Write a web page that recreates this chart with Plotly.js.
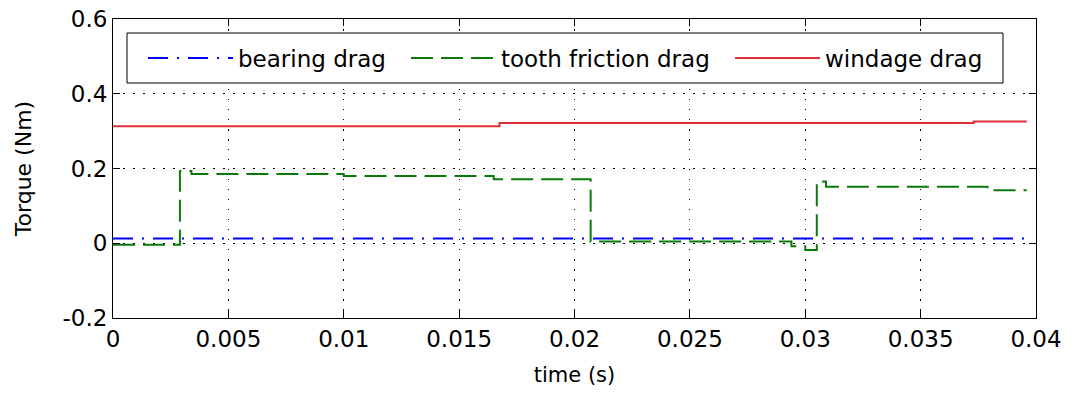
<!DOCTYPE html>
<html>
<head>
<meta charset="utf-8">
<script src="https://cdn.plot.ly/plotly-3.0.1.min.js"></script>
<style>
  html, body { margin: 0; padding: 0; background: #ffffff; }
  #chart { width: 1073px; height: 400px; }
</style>
</head>
<body>
<div id="chart"></div>
<script>
// ---- data ----
var seriesNames = ["bearing drag", "tooth friction drag", "windage drag"];

var bearingTime = [0, 0.0396];
var bearingDrag = [0.013, 0.013];

var toothTime = [0, 0.0029, 0.0034, 0.0100, 0.0165, 0.0207, 0.0294, 0.0300, 0.0305, 0.0309, 0.0379, 0.0396];
var toothDrag = [-0.004, 0.193, 0.185, 0.180, 0.171, 0.005, -0.008, -0.018, 0.165, 0.151, 0.142, 0.142];

var windageTime = [0, 0.01675, 0.0373, 0.0396];
var windageDrag = [0.313, 0.322, 0.326, 0.326];

var xTickVals = [0, 0.005, 0.01, 0.015, 0.02, 0.025, 0.03, 0.035, 0.04];
var xTickText = ["0", "0.005", "0.01", "0.015", "0.02", "0.025", "0.03", "0.035", "0.04"];
var yTickVals = [-0.2, 0, 0.2, 0.4, 0.6];
var yTickText = ["-0.2", "0", "0.2", "0.4", "0.6"];

var xTitle = "time (s)";
var yTitle = "Torque (Nm)";

// ---- chart ----
var FONT = "DejaVu Sans, Arial, sans-serif";

var traces = [
  { x: bearingTime, y: bearingDrag, name: seriesNames[0], mode: "lines", legend: "legend",
    line: { color: "#0000ff", width: 2, dash: "20px,9px,2px,9px" } },
  { x: toothTime, y: toothDrag, name: seriesNames[1], mode: "lines", legend: "legend2",
    line: { color: "#0a7a0a", width: 2, dash: "22px,8px", shape: "hv" } },
  { x: windageTime, y: windageDrag, name: seriesNames[2], mode: "lines", legend: "legend3",
    line: { color: "#e0303a", width: 2, shape: "hv" } }
];

var axisCommon = {
  showline: true, linecolor: "#000", linewidth: 1, mirror: "ticks",
  ticks: "inside", ticklen: 7, tickcolor: "#000", tickwidth: 1,
  showgrid: true, gridcolor: "#000", gridwidth: 1, griddash: "1.5px,8.5px",
  zeroline: false, tickmode: "array",
  tickfont: { family: FONT, size: 23, color: "#000" }
};

function legendAt(xpx) {
  return {
    x: (xpx - 113) / 923, xanchor: "left",
    y: (318 - 58) / 299, yanchor: "middle",
    orientation: "h", bgcolor: "rgba(0,0,0,0)", borderwidth: 0,
    itemwidth: 85,
    font: { family: FONT, size: 23, color: "#000" }
  };
}

var layout = {
  width: 1073, height: 400,
  margin: { l: 113, r: 37, t: 19, b: 82 },
  paper_bgcolor: "#fff", plot_bgcolor: "#fff",
  showlegend: true,
  xaxis: Object.assign({}, axisCommon, {
    range: [0, 0.04], tickvals: xTickVals, ticktext: xTickText,
    title: { text: xTitle, font: { family: FONT, size: 21, color: "#000" }, standoff: 16 }
  }),
  yaxis: Object.assign({}, axisCommon, {
    range: [-0.2, 0.6], tickvals: yTickVals, ticktext: yTickText,
    title: { text: yTitle, font: { family: FONT, size: 22, color: "#000" }, standoff: 24 }
  }),
  legend: legendAt(143),
  legend2: legendAt(406),
  legend3: legendAt(730),
  shapes: [
    { type: "rect", xref: "paper", yref: "paper", layer: "above",
      x0: (127 - 113) / 923, x1: (1003 - 113) / 923,
      y0: (318 - 83) / 299, y1: (318 - 33) / 299,
      fillcolor: "#fff", line: { color: "#000", width: 1 } }
  ]
};

Plotly.newPlot("chart", traces, layout, { staticPlot: true, displayModeBar: false });
</script>
</body>
</html>
